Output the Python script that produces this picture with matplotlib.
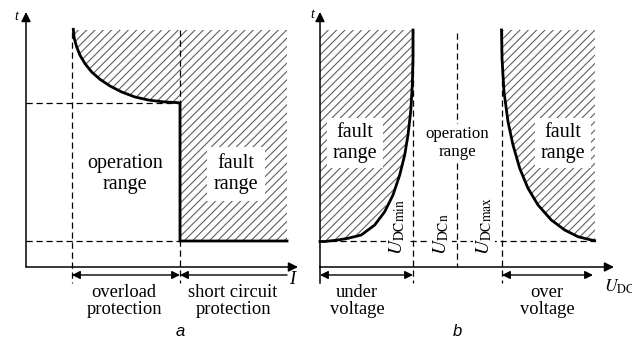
import numpy as np
import matplotlib
matplotlib.use('Agg')
import matplotlib.pyplot as plt

plt.rcParams['font.family'] = ['Liberation Serif', 'DejaVu Serif']
plt.rcParams['mathtext.fontset'] = 'stix'
plt.rcParams['hatch.linewidth'] = 0.8

# diagram units: x to the right, t downward (picture rows), one unit ~ one pixel
# panel a: overcurrent curve
a_curve_x = [73.3, 74.3, 76.7, 80, 85, 91.7, 100, 110, 121.7, 135, 148.3, 161.7, 178.3, 180]
a_curve_t = [29.3, 38.7, 47, 55.3, 63.7, 72, 79.3, 86, 92, 97, 100, 101.7, 102.7, 103]
a_I_ovl = 72        # start of overload zone
a_I_sc = 180        # start of short circuit zone
a_I_end = 287
a_t_top = 30
a_t_long = 103
a_t_min = 241

# panel b: under / over voltage curves
b_under_x = [320, 324.7, 338, 348, 361.3, 374.7, 384.7, 393, 399.7, 404.7, 408, 410.7,
             412.3, 413, 413]
b_under_t = [241.5, 241.5, 240, 238.3, 235, 225, 211.7, 195, 175, 155, 135, 111.7,
             85, 58.3, 30]
b_over_x = [501.5, 502, 504, 508, 513, 519.7, 528, 538, 551.3, 564.7, 578, 591.3, 594.7]
b_over_t = [30, 58.3, 91.7, 121.7, 145, 168.3, 188.3, 205, 220, 230, 236.7, 240, 240.7]
b_U_min = 413
b_U_n = 457
b_U_max = 502
b_U_end = 595
b_t_top = 30
b_t_min = 241

fig = plt.figure(figsize=(6.32, 3.4), dpi=100)
ax = fig.add_axes([0, 0, 1, 1])
ax.set_xlim(0, 632)
ax.set_ylim(340, 0)
ax.axis('off')

hc = '#606060'
dash = (0, (5, 3))
dlw = 0.9
fs = 13.3      # bottom labels
fr = 14.5      # region labels


def axis_arrow(x0, y0, x1, y1):
    ax.annotate('', xy=(x1, y1), xytext=(x0, y0),
                arrowprops=dict(arrowstyle='-|>', color='k', lw=1.1,
                                mutation_scale=14, shrinkA=0, shrinkB=0))


def span_arrow(x0, x1, y, style='<|-|>'):
    ax.annotate('', xy=(x1, y), xytext=(x0, y),
                arrowprops=dict(arrowstyle=style, color='k', lw=1.0,
                                mutation_scale=12, shrinkA=0, shrinkB=0))


# ---------------- panel a ----------------
ox, oy = 26, 267
ax.fill_between(a_curve_x, a_curve_t, a_t_top, hatch='////', facecolor='none',
                edgecolor=hc, linewidth=0)
ax.fill_between([a_I_sc, a_I_end], a_t_min, a_t_top, hatch='////', facecolor='none',
                edgecolor=hc, linewidth=0)

ax.plot([a_I_ovl, a_I_ovl], [a_t_top + 2, 283], color='k', ls=dash, lw=dlw)
ax.plot([a_I_sc, a_I_sc], [a_t_top, 283], color='k', ls=dash, lw=dlw)
ax.plot([ox, a_I_sc], [a_t_long, a_t_long], color='k', ls=dash, lw=dlw)
ax.plot([ox, a_I_sc], [a_t_min, a_t_min], color='k', ls=dash, lw=dlw)

ax.plot(a_curve_x + [a_I_sc, a_I_end],
        a_curve_t + [a_t_min, a_t_min], color='k', lw=2.0,
        solid_joinstyle='miter', zorder=4)

axis_arrow(ox, oy, ox, 12)
axis_arrow(ox, oy, 298, oy)
ax.text(16, 16, 't', style='italic', fontsize=10, ha='center', va='center')
ax.text(292, 280, 'I', style='italic', fontsize=fs, ha='center', va='center')

ax.text(125, 174, 'operation\nrange', fontsize=fr, ha='center', va='center',
        linespacing=1.1)
ax.text(236, 174, 'fault\nrange', fontsize=fr, ha='center', va='center',
        linespacing=1.1,
        bbox=dict(facecolor='white', edgecolor='none', pad=5))

span_arrow(a_I_ovl, a_I_sc, 275)
span_arrow(a_I_sc, a_I_end, 275, style='<|-')
ax.text(124, 301, 'overload\nprotection', fontsize=fs, ha='center', va='center',
        linespacing=1.05)
ax.text(233, 301, 'short circuit\nprotection', fontsize=fs, ha='center',
        va='center', linespacing=1.05)
ax.text(180, 331, 'a', family='Liberation Sans', style='italic', fontsize=12,
        ha='center', va='center')

# ---------------- panel b ----------------
bx = 320
ax.fill_betweenx(b_under_t, bx, b_under_x, hatch='////', facecolor='none',
                 edgecolor=hc, linewidth=0)
ax.fill_betweenx(b_over_t, b_over_x, b_U_end, hatch='////', facecolor='none',
                 edgecolor=hc, linewidth=0)

ax.plot([b_U_min, b_U_min], [b_t_top, 283], color='k', ls=dash, lw=dlw)
ax.plot([b_U_n, b_U_n], [b_t_top + 3, oy], color='k', ls=dash, lw=dlw)
ax.plot([b_U_max, b_U_max], [b_t_top, 283], color='k', ls=dash, lw=dlw)
ax.plot([bx, b_U_end], [b_t_min, b_t_min], color='k', ls=dash, lw=dlw)

ax.plot(b_under_x, b_under_t, color='k', lw=2.0, zorder=4)
ax.plot(b_over_x, b_over_t, color='k', lw=2.0, zorder=4)

ax.plot([bx, bx], [oy, 283], color='k', lw=1.1)
axis_arrow(bx, oy, bx, 12)
axis_arrow(bx, oy, 614, oy)
ax.text(312, 14, 't', style='italic', fontsize=10, ha='center', va='center')
ax.text(604, 287, r'$U_{\rm DC}$', fontsize=12.5, ha='left', va='center')

ax.text(355, 143, 'fault\nrange', fontsize=fr, ha='center', va='center',
        linespacing=1.1,
        bbox=dict(facecolor='white', edgecolor='none', pad=4))
ax.text(563, 143, 'fault\nrange', fontsize=fr, ha='center', va='center',
        linespacing=1.1,
        bbox=dict(facecolor='white', edgecolor='none', pad=4))
ax.text(457, 143, 'operation\nrange', fontsize=12.2, ha='center', va='center',
        linespacing=1.1,
        bbox=dict(facecolor='white', edgecolor='none', pad=2))

for xl, lab in [(397, r'$U_{\rm DCmin}$'), (441, r'$U_{\rm DCn}$'),
                (484, r'$U_{\rm DCmax}$')]:
    ax.text(xl, 255, lab, fontsize=14, rotation=90, ha='center', va='bottom',
            bbox=dict(facecolor='white', edgecolor='none', pad=0.5), zorder=3)

span_arrow(bx, b_U_min, 275)
span_arrow(b_U_max, b_U_end - 2, 275)
ax.text(357, 301, 'under\nvoltage', fontsize=fs, ha='center', va='center',
        linespacing=1.05)
ax.text(547, 301, 'over\nvoltage', fontsize=fs, ha='center', va='center',
        linespacing=1.05)
ax.text(457, 331, 'b', family='Liberation Sans', style='italic', fontsize=12,
        ha='center', va='center')

fig.savefig('out.png', dpi=100)
